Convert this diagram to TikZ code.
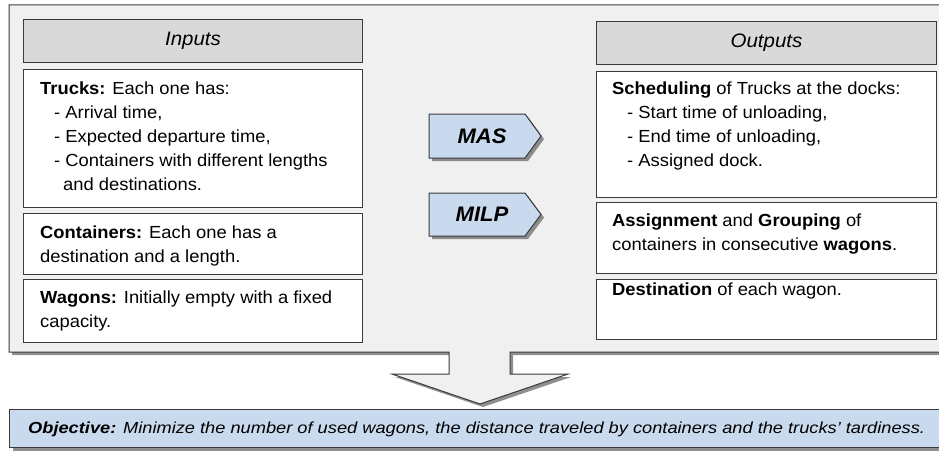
\documentclass[tikz,border=0pt]{standalone}
\usepackage{fontspec}
\setmainfont{Liberation Sans}[FakeStretch=1.05]
\newfontfamily\objfont{Liberation Sans}[FakeStretch=1.14]
\usetikzlibrary{shadows}
\definecolor{bgfill}{HTML}{F0F0F0}
\definecolor{hdrfill}{HTML}{D9D9D9}
\definecolor{lblue}{HTML}{C9DAEE}
\definecolor{edgec}{HTML}{3A3A3A}
\newcommand{\toppar}[1]{\parbox[t]{320pt}{\raggedright #1}}
\begin{document}
\begin{tikzpicture}[x=1pt,y=-1pt,
  shad/.style={drop shadow={shadow xshift=3pt,shadow yshift=-3pt,fill=black!55,opacity=0.8}},
  wbox/.style={draw=edgec,line width=1pt,fill=white,anchor=north west,inner sep=0pt},
  hbox/.style={draw=edgec,line width=1pt,fill=hdrfill,anchor=north west,inner sep=0pt},
  txt/.style={anchor=base west,inner sep=0pt,font=\fontsize{17.5}{24}\selectfont},
  htxt/.style={inner sep=0pt,font=\fontsize{19.5}{22}\selectfont\itshape},
  atxt/.style={inner sep=0pt,font=\fontsize{21}{23}\selectfont\bfseries\itshape},
  otxt/.style={anchor=base west,inner sep=0pt,font=\objfont\fontsize{16}{18}\selectfont\itshape}]
\useasboundingbox (0,0) rectangle (939,452);
\clip (0,0) rectangle (939,452);
\fill[white] (0,0) rectangle (939,452);

% outer container with the downward arrow
\draw[draw=edgec,line width=1pt,fill=bgfill,shad]
  (9,5) -- (945,5) -- (945,352) -- (510,352) -- (510,374) -- (568,374)
  -- (480,404) -- (392,374) -- (449,374) -- (449,352) -- (9,352) -- cycle;

% Inputs column
\node[hbox,minimum width=339pt,minimum height=43pt] (inhdr) at (23,19) {};
\node[htxt] (intxt) at (inhdr.center) {Inputs};
\node[wbox,minimum width=339pt,minimum height=138pt] (trucks) at (23,69) {};
\node[txt] (truckstxt) at (40,94) {\toppar{\textbf{Trucks:} Each one has:\\
  \hspace*{14pt}- Arrival time,\\
  \hspace*{14pt}- Expected departure time,\\
  \hspace*{14pt}- Containers with different lengths\\
  \hspace*{23pt}and destinations.}};
\node[wbox,minimum width=339pt,minimum height=61pt] (cont) at (23,213) {};
\node[txt] (conttxt) at (40,238) {\toppar{\textbf{Containers:} Each one has a\\destination and a length.}};
\node[wbox,minimum width=339pt,minimum height=63pt] (wag) at (23,279) {};
\node[txt] (wagtxt) at (40,303) {\toppar{\textbf{Wagons:} Initially empty with a fixed\\capacity.}};

% Outputs column
\node[hbox,minimum width=340pt,minimum height=43pt] (outhdr) at (596,21) {};
\node[htxt] (outtxt) at (outhdr.center) {Outputs};
\node[wbox,minimum width=340pt,minimum height=126pt] (sched) at (596,71) {};
\node[txt] (schedtxt) at (612,94) {\toppar{\textbf{Scheduling} of Trucks at the docks:\\
  \hspace*{15pt}- Start time of unloading,\\
  \hspace*{15pt}- End time of unloading,\\
  \hspace*{15pt}- Assigned dock.}};
\node[wbox,minimum width=340pt,minimum height=71pt] (assign) at (596,202) {};
\node[txt] (assigntxt) at (612,226) {\toppar{\textbf{Assignment} and \textbf{Grouping} of\\containers in consecutive \textbf{wagons}.}};
\node[wbox,minimum width=340pt,minimum height=60pt] (dest) at (596,279) {};
\node[txt] (desttxt) at (612,295) {\toppar{\textbf{Destination} of each wagon.}};

% MAS / MILP arrows
\draw[draw=edgec,line width=1pt,fill=lblue,shad]
  (429,114) -- (525,114) -- (541,136) -- (525,158) -- (429,158) -- cycle;
\node[atxt] (mas) at (482,136) {MAS};
\draw[draw=edgec,line width=1pt,fill=lblue,shad]
  (429,193) -- (525,193) -- (541,214.5) -- (525,236) -- (429,236) -- cycle;
\node[atxt] (milp) at (482,214.5) {MILP};

% Objective
\node[draw=edgec,line width=1pt,fill=lblue,shad,anchor=north west,inner sep=0pt,
  minimum width=936pt,minimum height=38pt] (obj) at (9,409) {};
\node[otxt] (objtxt) at (28,433) {\textbf{Objective:} Minimize the number of used wagons, the distance traveled by containers and the trucks’ tardiness.};
\end{tikzpicture}
\end{document}
